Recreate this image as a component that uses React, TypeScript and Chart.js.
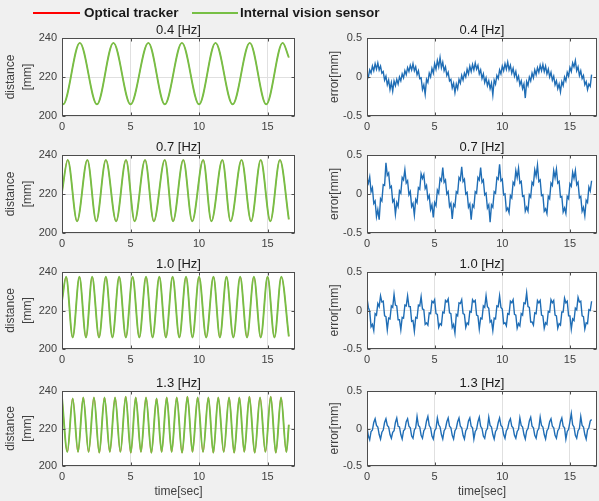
import React, { useEffect, useRef } from 'react';
import { Chart, registerables } from 'chart.js';

Chart.register(...registerables);

// ---------- data ----------
const X_TICKS = [0, 5, 10, 15];
const DIST_TICKS = [200, 220, 240];
const ERR_TICKS = [-0.5, 0, 0.5];
const FREQ_TITLES = ['0.4 [Hz]', '0.7 [Hz]', '1.0 [Hz]', '1.3 [Hz]'];
const LEGEND_LABELS = ['Optical tracker', 'Internal vision sensor'];
const ERR_DT = 0.1; // sampling step of the error traces [sec]

// distance traces: turning points (time, value)
const DIST04_T = [0, 0.08, 1.3, 2.55, 3.75, 5.0, 6.3, 7.5, 8.75, 10.0, 11.2, 12.45, 13.7, 14.9, 16.1, 16.55];
const DIST04_V = [206.3, 206, 237.5, 206, 237.5, 206, 237.5, 206, 237.5, 206, 237.5, 206, 237.5, 206, 237.5, 230];

const DIST07_T = [0, 0.42, 1.1, 1.85, 2.5, 3.2, 3.95, 4.67, 5.3, 6.06, 6.7, 7.5, 8.1, 8.85, 9.5, 10.3, 10.9, 11.7, 12.3, 13.1, 13.8, 14.5, 15.2, 15.9, 16.55];
const DIST07_V = [221, 237.5, 206, 237.5, 206, 237.5, 206, 237.5, 206, 237.5, 206, 237.5, 206, 237.5, 206, 237.5, 206, 237.5, 206, 237.5, 206, 237.5, 206, 237.5, 207];

const DIST10_T = [0, 0.3, 0.78, 1.27, 1.75, 2.2, 2.7, 3.2, 3.68, 4.17, 4.66, 5.15, 5.64, 6.13, 6.61, 7.1, 7.58, 8.07, 8.56, 9.05, 9.52, 10.0, 10.52, 11.05, 11.52, 12.0, 12.5, 13.0, 13.5, 14.0, 14.5, 15.0, 15.5, 16.0, 16.55];
const DIST10_V = [225, 237.5, 206, 237.5, 206, 237.5, 206, 237.5, 206, 237.5, 206, 237.5, 206, 237.5, 206, 237.5, 206, 237.5, 206, 237.5, 206, 237.5, 206, 237.5, 206, 237.5, 206, 237.5, 206, 237.5, 206, 237.5, 206, 237.5, 206.5];

const DIST13_T = [0, 0.39, 0.78, 1.17, 1.55, 1.94, 2.33, 2.72, 3.1, 3.49, 3.87, 4.26, 4.65, 5.02, 5.38, 5.76, 6.13, 6.52, 6.9, 7.27, 7.64, 8.0, 8.37, 8.76, 9.15, 9.52, 9.9, 10.29, 10.68, 11.04, 11.4, 11.8, 12.19, 12.56, 12.94, 13.3, 13.67, 14.06, 14.45, 14.84, 15.23, 15.6, 15.98, 16.37, 16.55];
const DIST13_V = [236.5, 207.5, 236, 207.5, 236.5, 207.5, 236.5, 207, 236.5, 207.5, 236.5, 207.5, 237, 207, 236.5, 207.5, 236.5, 207, 236, 207.5, 236.5, 207.5, 236.5, 207, 237, 207.5, 236.5, 207.5, 236.5, 207, 236.5, 207.5, 236.5, 207, 236.5, 207.5, 237, 207, 236.5, 207.5, 237, 207, 236.5, 207.5, 222];

// error traces, one value every ERR_DT seconds
const ERR04 = [
  0.03, 0.0, 0.09, 0.05, 0.14, 0.08, 0.17, 0.1, 0.18, 0.09,
  0.14, 0.05, 0.07, -0.04, 0.01, -0.1, -0.04, -0.16, -0.07, -0.18,
  -0.05, -0.11, -0.03, -0.09, 0.0, -0.05, 0.04, -0.01, 0.08, 0.03,
  0.12, 0.07, 0.15, 0.09, 0.17, 0.08, 0.13, 0.03, 0.08, -0.02,
  -0.01, -0.16, -0.1, -0.22, -0.03, -0.07, 0.05, 0.0, 0.11, 0.05,
  0.17, 0.1, 0.21, 0.13, 0.25, 0.12, 0.19, 0.08, 0.13, 0.02,
  0.06, -0.05, -0.03, -0.14, -0.08, -0.2, -0.09, -0.15, -0.03, -0.08,
  0.02, -0.04, 0.05, 0.0, 0.1, 0.04, 0.14, 0.07, 0.16, 0.09,
  0.18, 0.1, 0.15, 0.04, 0.09, -0.02, 0.04, -0.07, -0.01, -0.11,
  -0.05, -0.15, -0.08, -0.23, -0.04, -0.09, 0.02, -0.02, 0.09, 0.04,
  0.14, 0.08, 0.17, 0.1, 0.19, 0.09, 0.15, 0.05, 0.11, 0.01,
  0.07, -0.04, 0.01, -0.1, -0.05, -0.15, -0.09, -0.27, -0.06, -0.11,
  0.0, -0.05, 0.05, -0.01, 0.09, 0.03, 0.12, 0.06, 0.15, 0.08,
  0.16, 0.07, 0.14, 0.04, 0.1, 0.0, 0.06, -0.04, 0.01, -0.1,
  -0.05, -0.15, -0.09, -0.19, -0.06, -0.11, 0.0, -0.05, 0.06, 0.01,
  0.12, 0.07, 0.18, 0.13, 0.21, 0.08, 0.13, 0.02, 0.08, -0.02,
  0.02, -0.1, -0.06, -0.16, -0.09, -0.12, 0.03,
];
const ERR07 = [
  0.2, 0.14, 0.22, 0.03, 0.08, -0.12, -0.09, -0.29, -0.2, -0.33,
  -0.06, -0.09, 0.12, 0.11, 0.4, 0.24, 0.27, 0.08, 0.1, -0.1,
  -0.07, -0.26, -0.11, -0.16, 0.04, 0.01, 0.21, 0.18, 0.31, 0.14,
  0.17, -0.01, 0.03, -0.16, -0.12, -0.27, -0.07, -0.11, 0.08, 0.06,
  0.26, 0.2, 0.25, 0.07, 0.11, -0.06, -0.02, -0.2, -0.14, -0.3,
  -0.11, -0.15, 0.05, 0.01, 0.2, 0.17, 0.34, 0.15, 0.18, 0.0,
  0.03, -0.16, -0.12, -0.32, -0.13, -0.16, 0.03, 0.01, 0.21, 0.18,
  0.35, 0.16, 0.19, 0.0, 0.02, -0.17, -0.13, -0.33, -0.14, -0.17,
  0.03, 0.01, 0.21, 0.18, 0.34, 0.15, 0.18, -0.01, 0.01, -0.18,
  -0.14, -0.36, -0.14, -0.17, 0.03, 0.01, 0.21, 0.19, 0.38, 0.17,
  0.19, -0.01, 0.0, -0.21, -0.18, -0.24, -0.02, -0.05, 0.15, 0.12,
  0.3, 0.21, 0.33, 0.14, 0.16, -0.03, -0.02, -0.22, -0.17, -0.22,
  -0.01, -0.04, 0.15, 0.12, 0.31, 0.23, 0.37, 0.16, 0.18, -0.02,
  -0.01, -0.22, -0.19, -0.25, -0.03, -0.06, 0.14, 0.11, 0.3, 0.21,
  0.32, 0.14, 0.16, -0.04, -0.03, -0.23, -0.18, -0.25, -0.03, -0.06,
  0.13, 0.1, 0.28, 0.2, 0.3, 0.12, 0.15, -0.05, -0.03, -0.22,
  -0.17, -0.28, -0.08, -0.11, 0.09, 0.04, 0.17,
];
const ERR10 = [
  0.16, 0.04, -0.01, -0.21, -0.18, -0.26, -0.04, -0.06, 0.09, 0.05,
  0.19, 0.11, 0.12, -0.07, -0.08, -0.25, -0.1, -0.11, 0.06, 0.04,
  0.21, 0.07, 0.06, -0.12, -0.12, -0.25, -0.09, -0.1, 0.07, 0.06,
  0.19, 0.05, 0.05, -0.14, -0.13, -0.27, -0.09, -0.1, 0.07, 0.06,
  0.18, 0.02, 0.01, -0.18, -0.16, -0.19, -0.03, -0.04, 0.12, 0.1,
  0.14, -0.04, -0.05, -0.22, -0.17, -0.19, -0.02, -0.03, 0.13, 0.11,
  0.15, -0.03, -0.04, -0.22, -0.18, -0.29, -0.05, -0.07, 0.1, 0.09,
  0.14, -0.04, -0.05, -0.22, -0.16, -0.18, -0.01, -0.02, 0.14, 0.11,
  0.13, -0.06, -0.07, -0.24, -0.1, -0.11, 0.06, 0.04, 0.19, 0.05,
  0.03, -0.15, -0.13, -0.26, -0.1, -0.11, 0.06, 0.05, 0.19, 0.04,
  0.02, -0.17, -0.16, -0.2, -0.04, -0.05, 0.12, 0.1, 0.14, -0.05,
  -0.06, -0.23, -0.17, -0.2, -0.04, -0.06, 0.1, 0.09, 0.23, 0.05,
  0.04, -0.15, -0.15, -0.19, -0.03, -0.04, 0.13, 0.1, 0.13, -0.06,
  -0.07, -0.23, -0.16, -0.18, -0.01, -0.02, 0.14, 0.1, 0.13, -0.06,
  -0.07, -0.23, -0.17, -0.19, -0.02, -0.02, 0.16, 0.1, 0.12, -0.07,
  -0.07, -0.24, -0.11, -0.13, 0.03, 0.01, 0.17, 0.11, 0.12, -0.07,
  -0.08, -0.24, -0.16, -0.17, 0.01, 0.0, 0.12,
];
const ERR13 = [
  0.02, -0.1, -0.15, -0.04, -0.02, 0.08, 0.13, 0.04, 0.02, -0.08,
  -0.14, -0.05, -0.02, 0.08, 0.13, 0.04, 0.02, -0.08, -0.13, -0.05,
  -0.03, 0.08, 0.14, 0.03, 0.02, -0.08, -0.14, -0.03, -0.01, 0.09,
  0.13, 0.03, 0.01, -0.1, -0.13, -0.02, 0.01, 0.16, 0.04, 0.02,
  -0.09, -0.13, -0.03, 0.0, 0.1, 0.16, 0.04, 0.01, -0.1, -0.14,
  -0.03, 0.0, 0.14, 0.05, 0.02, -0.08, -0.14, -0.03, 0.0, 0.09,
  0.14, 0.03, 0.01, -0.09, -0.14, -0.03, 0.0, 0.09, 0.14, 0.03,
  0.01, -0.09, -0.14, -0.03, 0.0, 0.1, 0.14, 0.03, 0.01, -0.14,
  -0.04, -0.01, 0.09, 0.15, 0.03, 0.0, -0.1, -0.13, -0.03, 0.0,
  0.15, 0.04, 0.02, -0.08, -0.14, -0.04, -0.01, 0.08, 0.14, 0.04,
  0.02, -0.08, -0.13, -0.03, 0.0, 0.09, 0.13, 0.03, 0.01, -0.09,
  -0.13, -0.04, -0.01, 0.14, 0.04, 0.02, -0.08, -0.14, -0.03, 0.0,
  0.1, 0.15, 0.03, 0.01, -0.09, -0.13, -0.03, 0.0, 0.15, 0.04,
  0.02, -0.08, -0.14, -0.03, 0.0, 0.09, 0.13, 0.03, 0.01, -0.09,
  -0.13, -0.03, 0.0, 0.09, 0.14, 0.03, 0.01, -0.14, -0.04, -0.01,
  0.09, 0.2, 0.05, 0.02, -0.09, -0.13, -0.03, 0.0, 0.16, 0.04,
  0.02, -0.08, -0.14, -0.02, 0.01, 0.1, 0.12,
];

const DIST_T = [DIST04_T, DIST07_T, DIST10_T, DIST13_T];
const DIST_V = [DIST04_V, DIST07_V, DIST10_V, DIST13_V];
const ERRS = [ERR04, ERR07, ERR10, ERR13];

// ---------- style / layout ----------
const FONT = '"Liberation Sans", Arial, Helvetica, sans-serif';
const GREEN = '#77bf45';
const RED = '#ff0000';
const BLUE = '#1f6db5';
const GRID = '#e0e0e0';
const AXIS = '#4d4d4d';
const TICK = '#404040';
const TITLE = '#1a1a1a';

const ROW_TOP = [38, 155, 272, 391];
const ROW_H = [78, 78, 77, 75];
const TITLE_SPACE = 24;
const COLS = [
  { left: 0, width: 300, yw: 62, padR: 5 },
  { left: 300, width: 299, yw: 67, padR: 2 },
];

const boxPlugin = {
  id: 'matlabBox',
  beforeDraw(chart: any) {
    const { ctx, chartArea: a } = chart;
    ctx.save();
    ctx.fillStyle = '#ffffff';
    ctx.fillRect(a.left, a.top, a.right - a.left, a.bottom - a.top);
    ctx.restore();
  },
  afterDraw(chart: any, _args: any, opts: any) {
    const { ctx, chartArea: a, scales } = chart;
    const L = Math.round(a.left) + 0.5;
    const R = Math.round(a.right) - 0.5;
    const T = Math.round(a.top) + 0.5;
    const B = Math.round(a.bottom) - 0.5;
    ctx.save();
    ctx.strokeStyle = AXIS;
    ctx.lineWidth = 1;
    ctx.strokeRect(L, T, R - L, B - T);
    ctx.beginPath();
    for (const v of X_TICKS) {
      const px = Math.round(scales.x.getPixelForValue(v)) + 0.5;
      ctx.moveTo(px, B); ctx.lineTo(px, B - 3);
      ctx.moveTo(px, T); ctx.lineTo(px, T + 3);
    }
    for (const t of scales.y.ticks) {
      const py = Math.round(scales.y.getPixelForValue(t.value)) + 0.5;
      ctx.moveTo(L, py); ctx.lineTo(L + 3, py);
      ctx.moveTo(R, py); ctx.lineTo(R - 3, py);
    }
    ctx.stroke();
    ctx.fillStyle = TITLE;
    ctx.font = `13px ${FONT}`;
    ctx.textAlign = 'center';
    ctx.textBaseline = 'middle';
    ctx.fillText(opts.title, (a.left + a.right) / 2, a.top - 8);
    ctx.restore();
  },
};

function buildPanel(col: number, row: number) {
  const last = row === 3;
  const xh = last ? 36 : 18;
  const c = COLS[col];
  const isDist = col === 0;
  let datasets: any[];
  if (isDist) {
    const pts = DIST_T[row].map((t, i) => ({ x: t, y: DIST_V[row][i] }));
    datasets = [
      { label: LEGEND_LABELS[1], data: pts, borderColor: GREEN, borderWidth: 1.9, cubicInterpolationMode: 'monotone', pointRadius: 0 },
      { label: LEGEND_LABELS[0], data: pts, borderColor: RED, borderWidth: 0.6, cubicInterpolationMode: 'monotone', pointRadius: 0 },
    ];
  } else {
    const pts = ERRS[row].map((v, i) => ({ x: i * ERR_DT, y: v }));
    datasets = [{ label: 'error', data: pts, borderColor: BLUE, borderWidth: 1.4, tension: 0, pointRadius: 0 }];
  }
  const yTicks = isDist ? DIST_TICKS : ERR_TICKS;
  return {
    type: 'line',
    data: { datasets },
    options: {
      animation: false,
      responsive: false,
      maintainAspectRatio: false,
      devicePixelRatio: 1,
      events: [],
      layout: { padding: { top: TITLE_SPACE, right: c.padR, left: 0, bottom: 0 } },
      plugins: {
        legend: { display: false },
        tooltip: { enabled: false },
        matlabBox: { title: FREQ_TITLES[row] },
      },
      scales: {
        x: {
          type: 'linear',
          min: 0,
          max: 17,
          afterBuildTicks: (s: any) => { s.ticks = X_TICKS.map((v) => ({ value: v })); },
          afterFit: (s: any) => { s.height = xh; },
          grid: { color: GRID, drawTicks: false, lineWidth: 1 },
          border: { display: false },
          ticks: { color: TICK, font: { family: FONT, size: 11 }, padding: 4, maxRotation: 0, autoSkip: false },
          title: { display: last, text: 'time[sec]', color: TICK, font: { family: FONT, size: 12 }, padding: { top: 0, bottom: 3 } },
        },
        y: {
          type: 'linear',
          min: yTicks[0],
          max: yTicks[yTicks.length - 1],
          afterBuildTicks: (s: any) => { s.ticks = yTicks.map((v) => ({ value: v })); },
          afterFit: (s: any) => { s.width = c.yw; },
          grid: { color: GRID, drawTicks: false, lineWidth: 1 },
          border: { display: false },
          ticks: {
            color: TICK,
            font: { family: FONT, size: 11 },
            padding: 5,
            callback: (v: any) => String(v),
          },
          title: isDist
            ? { display: true, text: ['distance', '[mm]'], color: TICK, font: { family: FONT, size: 12, lineHeight: 1.35 }, padding: { top: 3, bottom: 0 } }
            : { display: true, text: 'error[mm]', color: TICK, font: { family: FONT, size: 12 }, padding: { top: 27, bottom: 0 } },
        },
      },
    },
    plugins: [boxPlugin],
  };
}

const PANELS: { col: number; row: number; left: number; top: number; w: number; h: number }[] = [];
for (let row = 0; row < 4; row++) {
  for (let col = 0; col < 2; col++) {
    const c = COLS[col];
    const xh = row === 3 ? 36 : 18;
    PANELS.push({ col, row, left: c.left, top: ROW_TOP[row] - TITLE_SPACE, w: c.width, h: TITLE_SPACE + ROW_H[row] + xh });
  }
}

export default function App() {
  const refs = useRef<(HTMLCanvasElement | null)[]>([]);
  useEffect(() => {
    const charts: Chart[] = [];
    PANELS.forEach((p, i) => {
      const cv = refs.current[i];
      if (cv) charts.push(new Chart(cv, buildPanel(p.col, p.row) as any));
    });
    return () => charts.forEach((ch) => ch.destroy());
  }, []);

  const legendText: React.CSSProperties = {
    position: 'absolute', top: 4, fontFamily: FONT, fontWeight: 700, fontSize: 13.5,
    lineHeight: '18px', color: '#1a1a1a', whiteSpace: 'nowrap',
  };
  return (
    <div style={{ position: 'fixed', left: 0, top: 0, width: 599, height: 501, background: '#f0f0f0', overflow: 'hidden' }}>
      {PANELS.map((p, i) => (
        <canvas
          key={i}
          ref={(el) => { refs.current[i] = el; }}
          width={p.w}
          height={p.h}
          style={{ position: 'absolute', left: p.left, top: p.top, width: p.w, height: p.h }}
        />
      ))}
      <div style={{ position: 'absolute', left: 33, top: 12, width: 47, height: 2, background: RED }} />
      <div style={{ ...legendText, left: 84 }}>{LEGEND_LABELS[0]}</div>
      <div style={{ position: 'absolute', left: 192, top: 12, width: 46, height: 2, background: GREEN }} />
      <div style={{ ...legendText, left: 240 }}>{LEGEND_LABELS[1]}</div>
    </div>
  );
}
